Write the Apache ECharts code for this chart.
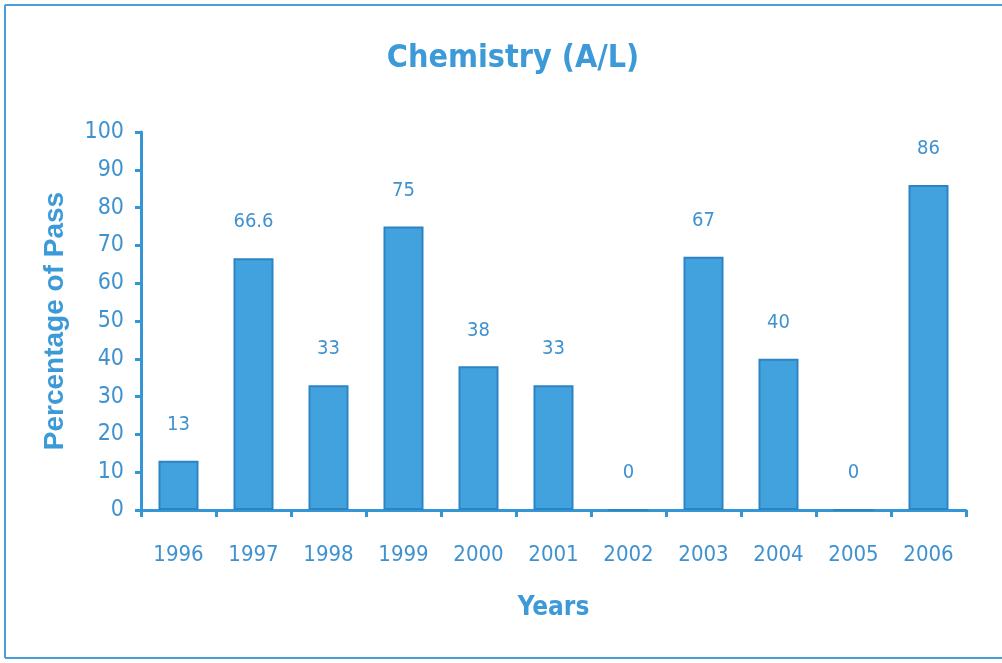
<!DOCTYPE html>
<html>
<head>
<meta charset="utf-8">
<script src="https://cdn.jsdelivr.net/npm/echarts@6/dist/echarts.min.js"></script>
<style>html,body{margin:0;padding:0;background:#fff}#c{width:1002px;height:663px}</style>
</head>
<body>
<div id="c"></div>
<script>
const years = ['1996','1997','1998','1999','2000','2001','2002','2003','2004','2005','2006'];
const passPct = [13, 66.6, 33, 75, 38, 33, 0, 67, 40, 0, 86];
const yTicks = [0,10,20,30,40,50,60,70,80,90,100];

const blue = '#3596d6';
const textBlue = '#3f92cf';
const narrow = "'Liberation Sans Narrow','DejaVu Sans Condensed',Arial,sans-serif";

const chart = echarts.init(document.getElementById('c'));
chart.setOption({
  backgroundColor: '#fff',
  animation: false,
  title: {
    text: 'Chemistry (A/L)',
    left: 508, top: 38, textAlign: 'center',
    textStyle: {color: '#3d9ad8', fontSize: 32, fontWeight: 'bold', fontFamily: narrow}
  },
  graphic: [
    {type:'line', shape:{x1:5,y1:5,x2:1002,y2:5}, style:{stroke:'#4b9fd6', lineWidth:2}},
    {type:'line', shape:{x1:5,y1:5,x2:5,y2:658}, style:{stroke:'#4b9fd6', lineWidth:2}},
    {type:'line', shape:{x1:5,y1:658,x2:1002,y2:658}, style:{stroke:'#4b9fd6', lineWidth:2}}
  ],
  grid: {left: 141, right: 36, top: 132, bottom: 153},
  xAxis: {
    type: 'category',
    data: years,
    name: 'Years',
    nameLocation: 'middle',
    nameGap: 85,
    nameTextStyle: {color: '#3d9ad8', fontSize: 26, fontWeight: 'bold', fontFamily: narrow},
    axisLine: {lineStyle: {color: blue, width: 3}},
    axisTick: {show: true, alignWithLabel: false, length: 7, lineStyle: {color: blue, width: 3}},
    axisLabel: {color: textBlue, fontSize: 22, fontFamily: narrow, margin: 34}
  },
  yAxis: {
    type: 'value',
    min: 0, max: 100, interval: 10,
    name: 'Percentage of Pass',
    nameLocation: 'middle',
    nameGap: 72,
    nameRotate: 90,
    nameTextStyle: {color: '#3d9ad8', fontSize: 28, fontWeight: 'bold', fontFamily: "'Liberation Sans',Arial,sans-serif"},
    splitLine: {show: false},
    axisLine: {show: true, lineStyle: {color: blue, width: 3}},
    axisTick: {show: true, length: 6, lineStyle: {color: blue, width: 3}},
    axisLabel: {color: textBlue, fontSize: 23, fontFamily: narrow, margin: 17,
      formatter: v => yTicks.includes(v) ? String(v) : ''}
  },
  series: [{
    type: 'bar',
    data: passPct,
    barWidth: 40,
    itemStyle: {color: '#42a2de', borderColor: '#2c84c4', borderWidth: 2},
    label: {show: true, position: 'top', distance: 26, color: textBlue, fontSize: 20, fontFamily: narrow}
  }]
});
</script>
</body>
</html>
